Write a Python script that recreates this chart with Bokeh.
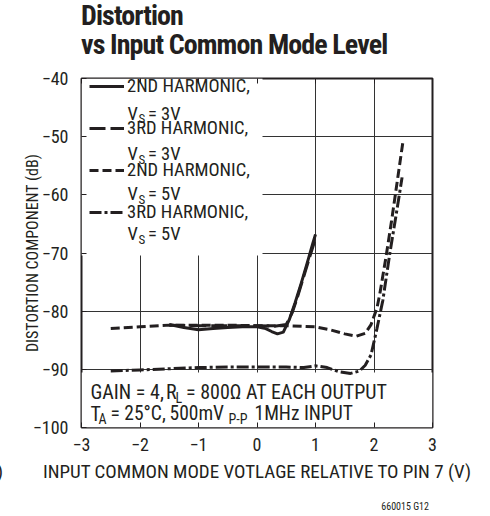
from bokeh.plotting import figure
from bokeh.models import (Range1d, FixedTicker, Legend, LegendItem, Label,
                          BoxAnnotation, Div, LinearAxis)
from bokeh.layouts import column
from bokeh.embed import file_html
from bokeh.resources import INLINE

# ---------------- data ----------------
x_2nd_3v = [-1.5, -1.25, -1.0, -0.75, -0.5, -0.25, 0.0, 0.15, 0.25, 0.35, 0.45,
            0.55, 0.65, 0.75, 0.85, 0.95, 1.0]
y_2nd_3v = [-82.3, -82.8, -83.2, -83.0, -82.8, -82.7, -82.7, -83.0, -83.5, -83.9,
            -83.6, -81.5, -78.6, -75.4, -72.0, -68.5, -66.8]

x_3rd_3v = [-1.5, -1.0, -0.5, 0.0, 0.3, 0.5, 0.6, 0.7, 0.8, 0.9, 1.0]
y_3rd_3v = [-82.4, -82.5, -82.5, -82.5, -82.6, -82.3, -80.3, -77.3, -74.0, -70.7, -67.5]

x_2nd_5v = [-2.5, -2.0, -1.5, -1.0, -0.5, 0.0, 0.5, 1.0, 1.25, 1.5, 1.7, 1.85,
            1.95, 2.05, 2.1, 2.2, 2.3, 2.4, 2.5]
y_2nd_5v = [-83.0, -82.7, -82.4, -82.4, -82.4, -82.5, -82.5, -82.7, -83.2, -83.9,
            -84.3, -83.8, -82.3, -79.5, -77.0, -71.0, -64.5, -57.5, -50.5]

x_3rd_5v = [-2.5, -2.0, -1.5, -1.0, -0.5, 0.0, 0.5, 0.8, 1.0, 1.2, 1.4, 1.6, 1.75,
            1.85, 1.95, 2.05, 2.15, 2.27, 2.39, 2.48]
y_3rd_5v = [-90.3, -90.1, -89.9, -89.7, -89.6, -89.6, -89.6, -89.7, -89.4, -89.7,
            -90.4, -90.7, -90.3, -89.3, -87.5, -83.0, -78.2, -70.1, -62.7, -57.0]

series_names = ["2ND HARMONIC,", "3RD HARMONIC,", "2ND HARMONIC,", "3RD HARMONIC,"]
supply_labels = ["= 3V", "= 3V", "= 5V", "= 5V"]

x_ticks = [-3, -2, -1, 0, 1, 2, 3]
x_tick_labels = ["\u22123", "\u22122", "\u22121", "0", "1", "2", "3"]
y_ticks = [-100, -90, -80, -70, -60, -50, -40]
y_tick_labels = ["\u2212100", "\u221290", "\u221280", "\u221270", "\u221260", "\u221250", "\u221240"]

title_lines = ["Distortion", "vs Input Common Mode Level"]
x_label = "INPUT COMMON MODE VOTLAGE RELATIVE TO PIN 7 (V)"
y_label = "DISTORTION COMPONENT (dB)"
figure_code = "660015 G12"

# ---------------- style ----------------
FONT = "Roboto Condensed, Roboto, sans-serif"
FONT_CSS = "'Roboto Condensed', Roboto, sans-serif"
INK = "#231f20"
LW = 3

TOP_H = 65      # height of the title block
BOT_H = 54      # height of the block under the plot
PLOT_H = 516 - TOP_H - BOT_H

p = figure(width=490, height=PLOT_H, x_range=Range1d(-3, 3), y_range=Range1d(-100, -40),
           output_backend="svg", toolbar_location=None,
           min_border_left=81, min_border_right=58, min_border_top=78 - TOP_H,
           min_border_bottom=PLOT_H - (78 - TOP_H) - 349)
p.background_fill_color = "white"
p.border_fill_color = "white"
p.outline_line_color = INK
p.outline_line_width = 2

# tick marks along the top edge (no labels)
top_axis = LinearAxis(ticker=FixedTicker(ticks=x_ticks),
                      major_label_overrides={t: "" for t in x_ticks},
                      major_label_text_font_size="0px", major_label_standoff=0,
                      major_tick_in=5, major_tick_out=0, minor_tick_line_color=None,
                      major_tick_line_color=INK, axis_line_color=None)
p.add_layout(top_axis, "above")

p.xaxis.ticker = FixedTicker(ticks=x_ticks)
p.yaxis.ticker = FixedTicker(ticks=y_ticks)
p.below[0].major_label_overrides = {t: l for t, l in zip(x_ticks, x_tick_labels)}
p.yaxis.major_label_overrides = {t: l for t, l in zip(y_ticks, y_tick_labels)}
for ax in (p.below[0], p.left[0]):
    ax.major_tick_in = 5
    ax.major_tick_out = 0
    ax.minor_tick_line_color = None
    ax.major_tick_line_color = INK
    ax.axis_line_color = None
    ax.major_label_text_font = FONT
    ax.major_label_text_font_size = "18px"
    ax.major_label_text_color = INK
p.below[0].major_label_standoff = 10
p.yaxis.major_label_standoff = 13
p.yaxis.axis_label = y_label
p.yaxis.axis_label_text_font = FONT
p.yaxis.axis_label_text_font_size = "16px"
p.yaxis.axis_label_text_font_style = "normal"
p.yaxis.axis_label_text_color = INK
p.yaxis.axis_label_standoff = -12

p.grid.grid_line_color = "#333333"
p.grid.grid_line_width = 1

# pixel -> data helpers for text placement inside the frame
def X(px):
    return -3 + (px - 81) * 6 / 351

def Y(py):
    return -40 - (py - 78) * 60 / 349

# white panels behind legend and note (cover the grid only)
p.add_layout(BoxAnnotation(left=-3, right=X(262), bottom=Y(255), top=-40,
                           fill_color="white", fill_alpha=1, line_alpha=0,
                           level="underlay"))
p.add_layout(BoxAnnotation(left=-3, right=3, bottom=-100, top=Y(372),
                           fill_color="white", fill_alpha=1, line_alpha=0,
                           level="underlay"))

# ---------------- curves ----------------
r1 = p.line(x_2nd_3v, y_2nd_3v, line_color=INK, line_width=LW, line_join="round")
r2 = p.line(x_3rd_3v, y_3rd_3v, line_color=INK, line_width=LW, line_dash="16 5")
r3 = p.line(x_2nd_5v, y_2nd_5v, line_color=INK, line_width=LW, line_dash="9 4")
r4 = p.line(x_3rd_5v, y_3rd_5v, line_color=INK, line_width=LW, line_dash="12 3 3 3")
blank = p.line(x=[], y=[], line_alpha=0)

items = []
for r, name in zip([r1, r2, r3, r4], series_names):
    items.append(LegendItem(label=name, renderers=[r]))
    items.append(LegendItem(label=" ", renderers=[blank]))
legend = Legend(items=items, location=(5, 181), padding=3, margin=0,
                spacing=0, label_height=20, glyph_height=20, glyph_width=35,
                label_standoff=3, background_fill_alpha=0, border_line_alpha=0,
                label_text_font=FONT, label_text_font_size="18.5px",
                label_text_color=INK)
p.add_layout(legend, "center")

def text_at(px, baseline_py, t, size):
    # Bokeh draws the text with its box bottom near y; lift by about the descent
    p.add_layout(Label(x=X(px), y=Y(baseline_py - 0.3 * size), text=t, text_font=FONT,
                       text_font_size=f"{size}px", text_color=INK,
                       text_baseline="alphabetic"))

# second legend lines with subscripts
legend_baselines = [118.7, 159.0, 199.3, 239.3]
for b, sup in zip(legend_baselines, supply_labels):
    text_at(127, b, "V", 18.5)
    text_at(138, b + 3.5, "S", 13)
    text_at(147.5, b, sup, 18.5)

# conditions note
text_at(90, 397.7, "GAIN = 4,", 20)
text_at(165.5, 397.7, "R", 20)
text_at(175, 401.5, "L", 14)
text_at(185.5, 397.7, "= 800\u03a9 AT EACH OUTPUT", 20)
text_at(90, 419, "T", 20)
text_at(98, 422.7, "A", 14)
text_at(110, 419, "= 25\u00b0C,", 19.5)
text_at(169, 419, "500mV", 19.5)
text_at(228, 422.7, "P-P", 14)
text_at(254, 419, "1MHz INPUT", 19.5)

# ---------------- title block and bottom texts ----------------
title_html = (
    f'<div style="position:relative;width:490px;height:{TOP_H}px;">'
    f'<div style="position:absolute;left:81px;top:1px;font-family:{FONT_CSS};'
    f'font-weight:bold;font-size:28px;line-height:29px;letter-spacing:-0.9px;'
    f'color:{INK};white-space:nowrap;">{title_lines[0]}<br>{title_lines[1]}</div></div>'
)
title_div = Div(text=title_html, width=490, height=TOP_H, margin=0)

bottom_html = (
    f'<div style="position:relative;width:490px;height:{BOT_H}px;">'
    f'<div style="position:absolute;right:487px;top:-1px;font-family:{FONT_CSS};'
    f'font-size:19px;line-height:22px;color:{INK};white-space:nowrap;">)</div>'
    f'<div style="position:absolute;left:0px;width:514px;top:-1px;text-align:center;'
    f'font-family:{FONT_CSS};font-size:19px;line-height:22px;color:{INK};'
    f'white-space:nowrap;">{x_label}</div>'
    f'<div style="position:absolute;right:61px;top:39px;font-family:{FONT_CSS};'
    f'font-size:10px;line-height:12px;color:{INK};white-space:nowrap;">{figure_code}</div>'
    f'</div>'
)
bottom_div = Div(text=bottom_html, width=490, height=BOT_H, margin=0)

layout = column(title_div, p, bottom_div, spacing=0)

open("out.html", "w").write(file_html(layout, INLINE))
